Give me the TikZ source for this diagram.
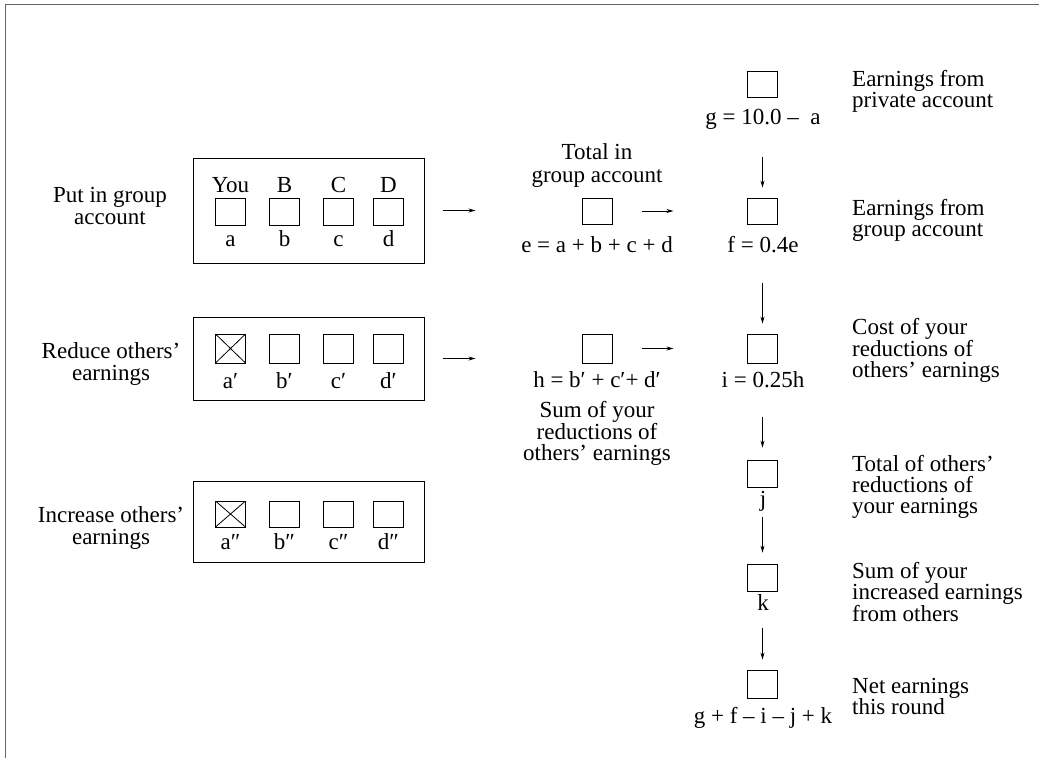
\documentclass[tikz,border=0pt]{standalone}
\usepackage{fontspec}
\setmainfont{Liberation Serif}
\usetikzlibrary{arrows.meta,calc}
\begin{document}
\begin{tikzpicture}[x=1pt,y=-1pt,
  txt/.style={inner sep=0pt, font=\fontsize{23}{22}\selectfont, align=center},
  btxt/.style={inner sep=0pt, font=\fontsize{23}{22}\selectfont, anchor=base},
  rtxt/.style={inner sep=0pt, font=\fontsize{23}{21}\selectfont, align=left, anchor=west},
  sq/.style={draw, line width=0.8pt, minimum width=30pt, minimum height=27pt, inner sep=0pt},
  xsq/.style={sq, path picture={\draw[line width=0.8pt] (path picture bounding box.north west) -- (path picture bounding box.south east) (path picture bounding box.north east) -- (path picture bounding box.south west);}},
  grp/.style={draw, line width=0.9pt, minimum width=231pt, inner sep=0pt},
  arr/.style={-{Stealth[length=7pt,width=4pt]}, line width=0.8pt},
  frame/.style={draw=black!60, line width=1pt}
]
\useasboundingbox (0,0) rectangle (1039,758);
\coordinate (fTL) at (5,4.5);
\coordinate (fTR) at (1039,4.5);
\coordinate (fBL) at (5,758);
\draw[frame] (fTR) -- (fTL) -- (fBL);

% ---- left labels
\node[txt] (L1) at (110,206) {Put in group\\account};
\node[txt] (L2) at (111,364) {Reduce others’\\earnings};
\node[txt] (L3) at (111,528) {Increase others’\\earnings};

% ---- group boxes
\node[grp, minimum height=105pt] (G1) at (308.5,210.5) {};
\node[grp, minimum height=83pt] (G2) at (308.5,358.5) {};
\node[grp, minimum height=81pt] (G3) at (308.5,521.5) {};

% row 1
\node[sq] (a1) at (230.5,211.5) {};
\node[sq] (b1) at (284.5,211.5) {};
\node[sq] (c1) at (338.5,211.5) {};
\node[sq] (d1) at (388.5,211.5) {};
\node[btxt] (you) at (230.5,192) {You};
\node[btxt] (hB) at (284.5,192) {B};
\node[btxt] (hC) at (338.5,192) {C};
\node[btxt] (hD) at (388.5,192) {D};
\node[btxt] (la1) at (230.5,246) {a};
\node[btxt] (lb1) at (284.5,246) {b};
\node[btxt] (lc1) at (338.5,246) {c};
\node[btxt] (ld1) at (388.5,246) {d};

% row 2
\node[xsq, minimum height=29pt] (a2) at (230.5,348.5) {};
\node[sq, minimum height=29pt] (b2) at (284.5,348.5) {};
\node[sq, minimum height=29pt] (c2) at (338.5,348.5) {};
\node[sq, minimum height=29pt] (d2) at (388.5,348.5) {};
\node[btxt] (la2) at (230.5,388) {a′};
\node[btxt] (lb2) at (284.5,388) {b′};
\node[btxt] (lc2) at (338.5,388) {c′};
\node[btxt] (ld2) at (388.5,388) {d′};

% row 3
\node[xsq, minimum height=26pt] (a3) at (230.5,514) {};
\node[sq, minimum height=26pt] (b3) at (284.5,514) {};
\node[sq, minimum height=26pt] (c3) at (338.5,514) {};
\node[sq, minimum height=26pt] (d3) at (388.5,514) {};
\node[btxt] (la3) at (230.5,549) {a″};
\node[btxt] (lb3) at (284.5,549) {b″};
\node[btxt] (lc3) at (338.5,549) {c″};
\node[btxt] (ld3) at (388.5,549) {d″};

% ---- middle column
\node[txt, font=\fontsize{23}{23}\selectfont] (Ttot) at (597,165.5) {Total in\\group account};
\node[sq, minimum height=26pt] (e) at (597,211) {};
\node[btxt] (eq) at (597,252) {e = a + b + c + d};
\node[sq, minimum height=29pt] (h) at (597,348.5) {};
\node[btxt] (hq) at (597,387) {h = b′ + c′+ d′};
\node[txt, font=\fontsize{23}{21}\selectfont] (Tsum) at (597,433) {Sum of your\\reductions of\\others’ earnings};

% ---- right column
\node[sq, minimum height=26pt] (g) at (762.5,84) {};
\node[btxt] (gq) at (763,124) {g = 10.0 –~~a};
\node[sq, minimum height=26pt] (f) at (762.5,211) {};
\node[btxt] (fq) at (763,252) {f = 0.4e};
\node[sq, minimum height=29pt] (i) at (762.5,348.5) {};
\node[btxt] (iq) at (763,387) {i = 0.25h};
\node[sq] (j) at (762.5,473.5) {};
\node[btxt] (jq) at (763,506) {j};
\node[sq] (k) at (762.5,577.5) {};
\node[btxt] (kq) at (763,610) {k};
\node[sq, minimum height=28pt] (n) at (762.5,684) {};
\node[btxt] (nq) at (763,723) {g + f – i – j + k};

% ---- right descriptions
\node[rtxt] (Dg) at (852,91) {Earnings from\\private account};
\node[rtxt] (Df) at (852,220) {Earnings from\\group account};
\node[rtxt] (Di) at (852,350) {Cost of your\\reductions of\\others’ earnings};
\node[rtxt] (Dj) at (852,487) {Total of others’\\reductions of\\your earnings};
\node[rtxt] (Dk) at (852,592) {Sum of your\\increased earnings\\from others};
\node[rtxt] (Dn) at (852,696) {Net earnings\\this round};

% ---- arrows
\draw[arr] ([xshift=19pt]G1.east) -- ([xshift=51pt]G1.east);
\draw[arr] ([xshift=19pt]G2.east) -- ([xshift=51pt]G2.east);
\draw[arr] ([xshift=30pt]e.east) -- ([xshift=61pt]e.east);
\draw[arr] ([xshift=30pt]h.east) -- ([xshift=61pt]h.east);
\draw[arr] ([yshift=41pt]f.north) -- ([yshift=10pt]f.north);
\draw[arr] ([yshift=51pt]i.north) -- ([yshift=10pt]i.north);
\draw[arr] ([yshift=43pt]j.north) -- ([yshift=12pt]j.north);
\draw[arr] ([yshift=47pt]k.north) -- ([yshift=11pt]k.north);
\draw[arr] ([yshift=42pt]n.north) -- ([yshift=10pt]n.north);
\end{tikzpicture}
\end{document}
